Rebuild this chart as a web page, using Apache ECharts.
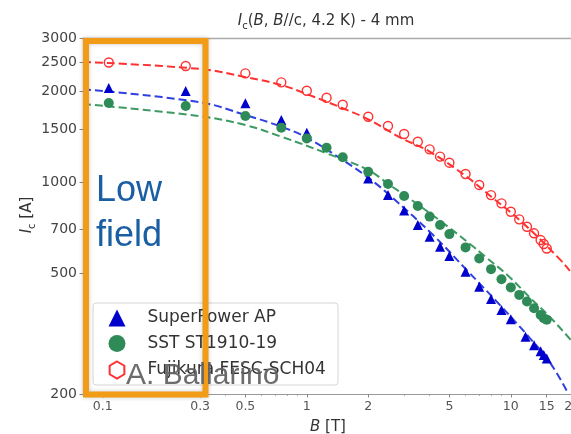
<!DOCTYPE html>
<html>
<head>
<meta charset="utf-8">
<script src="https://cdn.jsdelivr.net/npm/echarts@6/dist/echarts.min.js"></script>
<style>html,body{margin:0;padding:0;background:#fff;}#c{width:571px;height:434px;}</style>
</head>
<body>
<div id="c"></div>
<script>
// ---- tick positions / labels ----
const xTicks = [0.1, 0.3, 0.5, 1, 2, 5, 10, 15, 20];
const xTickLabels = ['0.1', '0.3', '0.5', '1', '2', '5', '10', '15', '20'];
const xMinorTicks = [0.09, 0.2, 0.4, 0.6, 0.7, 0.8, 0.9, 3, 4, 6, 7, 8, 9];
const yTicks = [200, 500, 700, 1000, 1500, 2000, 2500, 3000];
const yTickLabels = ['200', '500', '700', '1000', '1500', '2000', '2500', '3000'];

// ---- measured data (B [T], Ic [A]) ----
const seriesNames = ['SuperPower AP', 'SST ST1910-19', 'Fujikura FESC-SCH04'];
const fieldSP = [0.107, 0.255, 0.5, 0.75, 1, 2, 2.5, 3, 3.5, 4, 4.5, 5, 6, 7, 8, 9, 10, 11.8, 13, 14, 14.5, 15];
const icSP = [2050, 2005, 1826, 1608, 1460, 1031, 908, 807, 723, 662, 613, 571, 507, 452, 412, 379, 353, 309, 290, 277, 269, 262];
const fieldSST = [0.107, 0.255, 0.5, 0.75, 1, 1.25, 1.5, 2, 2.5, 3, 3.5, 4, 4.5, 5, 6, 7, 8, 9, 10, 11, 12, 13, 14, 14.5, 15];
const icSST = [1830, 1789, 1657, 1517, 1398, 1302, 1211, 1085, 988, 902, 836, 771, 723, 675, 610, 561, 517, 479, 450, 425, 404, 384, 365, 356, 352];
const fieldFJ = [0.107, 0.255, 0.5, 0.75, 1, 1.25, 1.5, 2, 2.5, 3, 3.5, 4, 4.5, 5, 6, 7, 8, 9, 10, 11, 12, 13, 14, 14.5, 15];
const icFJ = [2490, 2425, 2293, 2141, 2009, 1905, 1805, 1648, 1536, 1445, 1363, 1286, 1217, 1162, 1066, 981, 908, 853, 800, 755, 714, 679, 645, 626, 605];

// ---- fit curves ----
const fitFieldSP = [0.08, 0.3, 0.5, 0.75, 1, 1.5, 2, 2.6, 4.16, 6.07, 8.83, 12.4, 15.5, 19.2];
const fitIcSP = [2031, 1840, 1670, 1528, 1405, 1186, 1037, 897, 670, 514, 394, 306, 255, 200];
const fitFieldSST = [0.08, 0.3, 0.5, 0.75, 1.25, 2, 2.5, 3.3, 4.84, 6.42, 7.46, 9.7, 12.2, 15.5, 19.4, 22];
const fitIcSST = [1816, 1655, 1547, 1416, 1248, 1099, 990, 870, 720, 620, 570, 492, 421, 360, 305, 276];
const fitFieldFJ = [0.08, 0.3, 0.5, 0.75, 1, 1.5, 2, 2.86, 4, 6.07, 7.89, 11.5, 17.4, 19.7, 22];
const fitIcFJ = [2500, 2370, 2228, 2098, 1959, 1758, 1616, 1409, 1264, 1045, 905, 733, 557, 506, 465];

const zip = (a, b) => a.map((v, i) => [v, b[i]]);
const labelFor = (ticks, labels) => (v) => {
  const i = ticks.findIndex(t => Math.abs(Math.log10(t) - Math.log10(v)) < 1e-6);
  return i >= 0 ? labels[i] : '';
};

const FONT = 'DejaVu Sans';
const hexPath = 'path://M0,-10L8.66,-5L8.66,5L0,10L-8.66,5L-8.66,-5Z';
const richBase = {
  n: { fontFamily: FONT, fontSize: 15, lineHeight: 20, fill: '#333' },
  i: { fontFamily: FONT, fontSize: 15, fontStyle: 'italic', lineHeight: 20, fill: '#333' },
  s: { fontFamily: FONT, fontSize: 10, lineHeight: 11, verticalAlign: 'bottom', fill: '#333' }
};

const chart = echarts.init(document.getElementById('c'), null, { renderer: 'canvas' });
const XMIN = 0.08, XMAX = 25;
chart.setOption({
  animation: false,
  backgroundColor: '#fff',
  grid: { left: 83, top: 38, width: 509, height: 356, containLabel: false, outerBoundsMode: 'none' },
  xAxis: [
    {
      type: 'log', min: XMIN, max: XMAX, position: 'bottom',
      axisLine: { show: true, lineStyle: { color: '#999', width: 1.2 } },
      axisTick: { show: true, customValues: xTicks, length: 3.5, lineStyle: { color: '#888', width: 1 } },
      axisLabel: { customValues: xTicks, formatter: labelFor(xTicks, xTickLabels), margin: 6,
        fontFamily: FONT, fontSize: 12.5, color: '#555' },
      splitLine: { show: false }, minorTick: { show: false }
    },
    {
      type: 'log', min: XMIN, max: XMAX, position: 'bottom',
      axisLine: { show: false },
      axisTick: { show: true, customValues: xMinorTicks, length: 2, lineStyle: { color: '#999', width: 0.8 } },
      axisLabel: { show: false }, splitLine: { show: false }
    },
    {
      type: 'log', min: XMIN, max: XMAX, position: 'top',
      axisLine: { show: true, lineStyle: { color: '#aaa', width: 1.3 } },
      axisTick: { show: false }, axisLabel: { show: false }, splitLine: { show: false }
    }
  ],
  yAxis: {
    type: 'log', min: 200, max: 3000,
    axisLine: { show: true, lineStyle: { color: '#999', width: 1.2 } },
    axisTick: { show: true, customValues: yTicks, length: 3.5, lineStyle: { color: '#888' } },
    axisLabel: { customValues: yTicks, formatter: labelFor(yTicks, yTickLabels), margin: 6,
      fontFamily: FONT, fontSize: 14, color: '#444' },
    splitLine: { show: false }
  },
  legend: {
    orient: 'vertical', left: 108.5, top: 309.5, padding: 0,
    itemWidth: 17, itemHeight: 17, itemGap: 8.5,
    textStyle: { fontFamily: FONT, fontSize: 17, color: '#333', lineHeight: 17, padding: [0, 0, 0, 17] },
    data: [
      { name: seriesNames[0], icon: 'triangle' },
      { name: seriesNames[1], icon: 'circle' },
      { name: seriesNames[2], icon: hexPath }
    ],
    z: 6
  },
  series: [
    { type: 'line', name: 'fitFJ', data: zip(fitFieldFJ, fitIcFJ), showSymbol: false, smooth: 0.4,
      lineStyle: { color: '#ff3030', width: 2, type: [8, 4] }, z: 2 },
    { type: 'line', name: 'fitSP', data: zip(fitFieldSP, fitIcSP), showSymbol: false, smooth: 0.4,
      lineStyle: { color: '#2f3fe0', width: 2, type: [8, 4] }, z: 2 },
    { type: 'line', name: 'fitSST', data: zip(fitFieldSST, fitIcSST), showSymbol: false, smooth: 0.4,
      lineStyle: { color: '#3d9a62', width: 2, type: [8, 4] }, z: 2 },
    { type: 'scatter', name: seriesNames[0], data: zip(fieldSP, icSP), symbol: 'triangle', symbolSize: 10,
      itemStyle: { color: '#0000cd', opacity: 1 }, z: 3 },
    { type: 'scatter', name: seriesNames[1], data: zip(fieldSST, icSST), symbol: 'circle', symbolSize: 10,
      itemStyle: { color: '#2e8b57', opacity: 1 }, z: 3 },
    { type: 'scatter', name: seriesNames[2], data: zip(fieldFJ, icFJ), symbol: 'circle', symbolSize: 9,
      itemStyle: { color: 'rgba(255,255,255,0)', borderColor: '#ff3030', borderWidth: 1.4, opacity: 1 }, z: 3 }
  ],
  graphic: [
    { type: 'text', x: 326, y: 21, z: 10,
      style: { text: '{i|I}{s|c}{n|(}{i|B}{n|, }{i|B}{n|//c, 4.2 K) - 4 mm}', align: 'center', verticalAlign: 'middle', rich: richBase } },
    { type: 'text', x: 27, y: 215, rotation: Math.PI / 2, z: 10,
      style: { text: '{i|I}{s|c}{n| [A]}', align: 'center', verticalAlign: 'middle', rich: richBase } },
    { type: 'text', x: 328, y: 427, z: 10,
      style: { text: '{i|B}{n| [T]}', align: 'center', verticalAlign: 'middle', rich: richBase } },
    { type: 'rect', z: 5, shape: { x: 93, y: 303, width: 245, height: 82, r: 3 },
      style: { fill: 'rgba(255,255,255,0.85)', stroke: '#d6d6d6', lineWidth: 1 } },
    { type: 'rect', z: 15, shape: { x: 86, y: 41, width: 119.5, height: 353.5 },
      style: { fill: 'none', stroke: '#f29b17', lineWidth: 6, shadowBlur: 4, shadowColor: 'rgba(0,0,0,0.22)' } },
    { type: 'text', x: 96, y: 191, z: 16,
      style: { text: 'Low', font: '36px "Liberation Sans"', fill: '#1a5fa3', align: 'left', verticalAlign: 'middle' } },
    { type: 'text', x: 96, y: 236, z: 16,
      style: { text: 'field', font: '36px "Liberation Sans"', fill: '#1a5fa3', align: 'left', verticalAlign: 'middle' } },
    { type: 'text', x: 126, y: 376, z: 20,
      style: { text: 'A. Ballarino', font: '30px "Liberation Sans"', fill: 'rgba(95,95,95,0.92)', align: 'left', verticalAlign: 'middle' } }
  ]
});
</script>
</body>
</html>
